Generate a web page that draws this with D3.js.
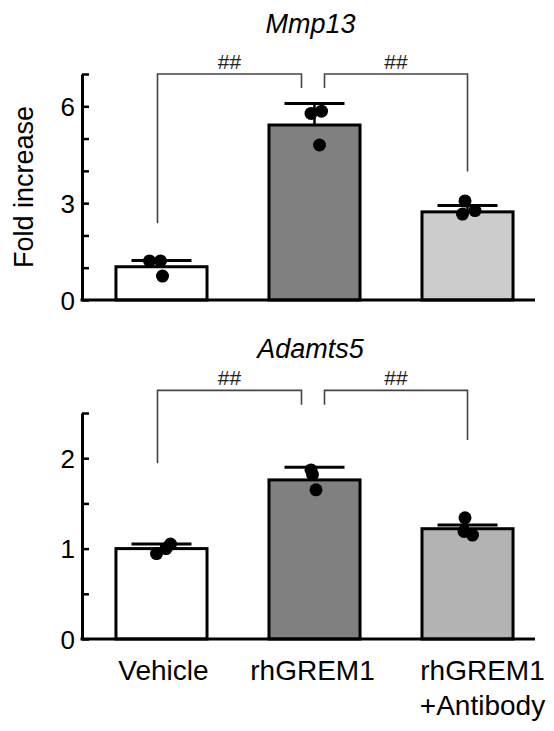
<!DOCTYPE html>
<html>
<head>
<meta charset="utf-8">
<script src="https://cdn.jsdelivr.net/npm/d3@7"></script>
<style>
  body { margin: 0; background: #fff; }
  svg text { font-family: "Liberation Sans", Arial, sans-serif; fill: #000; }
</style>
</head>
<body>
<div id="chart"></div>
<script>
// ---- data ----
const categories = ["Vehicle", "rhGREM1", "rhGREM1|+Antibody"];

const mmp13Mean = [1.03, 5.42, 2.73];
const mmp13Sd = [0.19, 0.67, 0.20];
const mmp13Points = [[1.21, 1.21, 0.74], [5.78, 5.85, 4.80], [3.07, 2.77, 2.66]];
const mmp13Ticks = [0, 1, 2, 3, 4, 5, 6, 7];
const mmp13TickLabels = [0, 3, 6];
// bracket: [from, to, level, legFrom, legTo]
const mmp13Brackets = [[0, 1, 7.0, 2.38, 6.57], [1, 2, 7.0, 6.57, 3.98]];

const adamts5Mean = [1.00, 1.76, 1.22];
const adamts5Sd = [0.05, 0.14, 0.04];
const adamts5Points = [[0.945, 1.00, 1.05], [1.87, 1.82, 1.65], [1.34, 1.19, 1.15]];
const adamts5Ticks = [0, 0.5, 1, 1.5, 2, 2.5];
const adamts5TickLabels = [0, 1, 2];
const adamts5Brackets = [[0, 1, 2.75, 1.945, 2.59], [1, 2, 2.75, 2.59, 2.20]];

const sigLabel = "##";

// ---- layout ----
const W = 554, H = 731;
const axisX = 82, axisEnd = 535;
const fills = [["#ffffff", "#808080", "#cccccc"], ["#ffffff", "#808080", "#b3b3b3"]];
// horizontal scatter of the dots (px) and bracket leg offsets
const jitter = [[[-12, -1, 1], [-3.5, 7, 5], [-2.5, 7.5, -5]],
                [[-5, 4.5, 9], [-3.5, -2, 1.5], [-2.5, -3.5, 5]]];
const legOffset = [[-4, -13], [10, 0]];

const svg = d3.select("#chart").append("svg")
    .attr("width", W).attr("height", H);

const x = d3.scaleBand()
    .domain(categories)
    .range([axisX, 547])
    .paddingInner(0.405)
    .paddingOuter(0.222);
const cx = i => x(categories[i]) + x.bandwidth() / 2;

function panel(cfg) {
    const y = d3.scaleLinear().domain(cfg.domain).range(cfg.range);
    const g = svg.append("g");

    // title
    g.append("text")
        .attr("x", (axisX + axisEnd) / 2 + 2)
        .attr("y", cfg.titleY)
        .attr("text-anchor", "middle")
        .style("font-size", "27px")
        .style("font-style", "italic")
        .text(cfg.title);

    // bars
    g.selectAll("rect.bar").data(cfg.mean).join("rect")
        .attr("class", "bar")
        .attr("x", (d, i) => x(categories[i]))
        .attr("y", d => y(d))
        .attr("width", x.bandwidth())
        .attr("height", d => y(0) - y(d))
        .attr("fill", (d, i) => cfg.fills[i])
        .attr("stroke", "#000")
        .attr("stroke-width", 3);

    // error bars (upper only)
    cfg.mean.forEach((m, i) => {
        g.append("line")
            .attr("x1", cx(i)).attr("x2", cx(i))
            .attr("y1", y(m)).attr("y2", y(m + cfg.sd[i]))
            .attr("stroke", "#000").attr("stroke-width", 2.5);
        g.append("line")
            .attr("x1", cx(i) - 30).attr("x2", cx(i) + 30)
            .attr("y1", y(m + cfg.sd[i])).attr("y2", y(m + cfg.sd[i]))
            .attr("stroke", "#000").attr("stroke-width", 3);
    });

    // dots
    cfg.points.forEach((pts, i) => {
        g.selectAll(null).data(pts).join("circle")
            .attr("cx", (d, j) => cx(i) + cfg.jitter[i][j])
            .attr("cy", d => y(d))
            .attr("r", 6.5)
            .attr("fill", "#000");
    });

    // y axis
    const yAxis = d3.axisLeft(y)
        .tickValues(cfg.ticks)
        .tickSizeInner(-7)
        .tickSizeOuter(0)
        .tickPadding(7)
        .tickFormat(d => cfg.tickLabels.includes(d) ? d : "");
    const ya = g.append("g")
        .attr("transform", `translate(${axisX},0)`)
        .call(yAxis);
    ya.select(".domain").attr("stroke-width", 3);
    ya.selectAll(".tick line").attr("stroke-width", 2.5);
    ya.selectAll(".tick text")
        .style("font-size", "26px")
        .style("font-family", "Liberation Sans, Arial, sans-serif")
        .attr("dy", "0.36em");

    // x axis baseline
    g.append("line")
        .attr("x1", axisX - 1.5).attr("x2", axisEnd)
        .attr("y1", y(0)).attr("y2", y(0))
        .attr("stroke", "#000").attr("stroke-width", 3);

    // significance brackets
    cfg.brackets.forEach((b, k) => {
        const x1 = cx(b[0]) + legOffset[k][0];
        const x2 = cx(b[1]) + legOffset[k][1];
        g.append("path")
            .attr("d", `M${x1},${y(b[3])}V${y(b[2])}H${x2}V${y(b[4])}`)
            .attr("fill", "none")
            .attr("stroke", "#444")
            .attr("stroke-width", 1.6);
        g.append("text")
            .attr("x", (x1 + x2) / 2)
            .attr("y", y(b[2]) - 5)
            .attr("text-anchor", "middle")
            .style("font-size", "21px")
            .style("fill", "#222")
            .text(sigLabel);
    });

    return y;
}

panel({
    title: "Mmp13", titleY: 33,
    domain: [0, 7], range: [300, 74],
    mean: mmp13Mean, sd: mmp13Sd, points: mmp13Points,
    ticks: mmp13Ticks, tickLabels: mmp13TickLabels,
    brackets: mmp13Brackets, fills: fills[0], jitter: jitter[0]
});

panel({
    title: "Adamts5", titleY: 358,
    domain: [0, 2.5], range: [639, 413],
    mean: adamts5Mean, sd: adamts5Sd, points: adamts5Points,
    ticks: adamts5Ticks, tickLabels: adamts5TickLabels,
    brackets: adamts5Brackets, fills: fills[1], jitter: jitter[1]
});

// y axis title
svg.append("text")
    .attr("transform", `translate(33,187) rotate(-90)`)
    .attr("text-anchor", "middle")
    .style("font-size", "27px")
    .text("Fold increase");

// category labels
const labelShift = [2, -2, 15];
categories.forEach((c, i) => {
    const t = svg.append("text")
        .attr("x", cx(i) + labelShift[i])
        .attr("y", 680)
        .attr("text-anchor", "middle")
        .style("font-size", "28px");
    c.split("|").forEach((line, k) => {
        t.append("tspan")
            .attr("x", cx(i) + labelShift[i])
            .attr("dy", k === 0 ? 0 : 35)
            .text(line);
    });
});
</script>
</body>
</html>
